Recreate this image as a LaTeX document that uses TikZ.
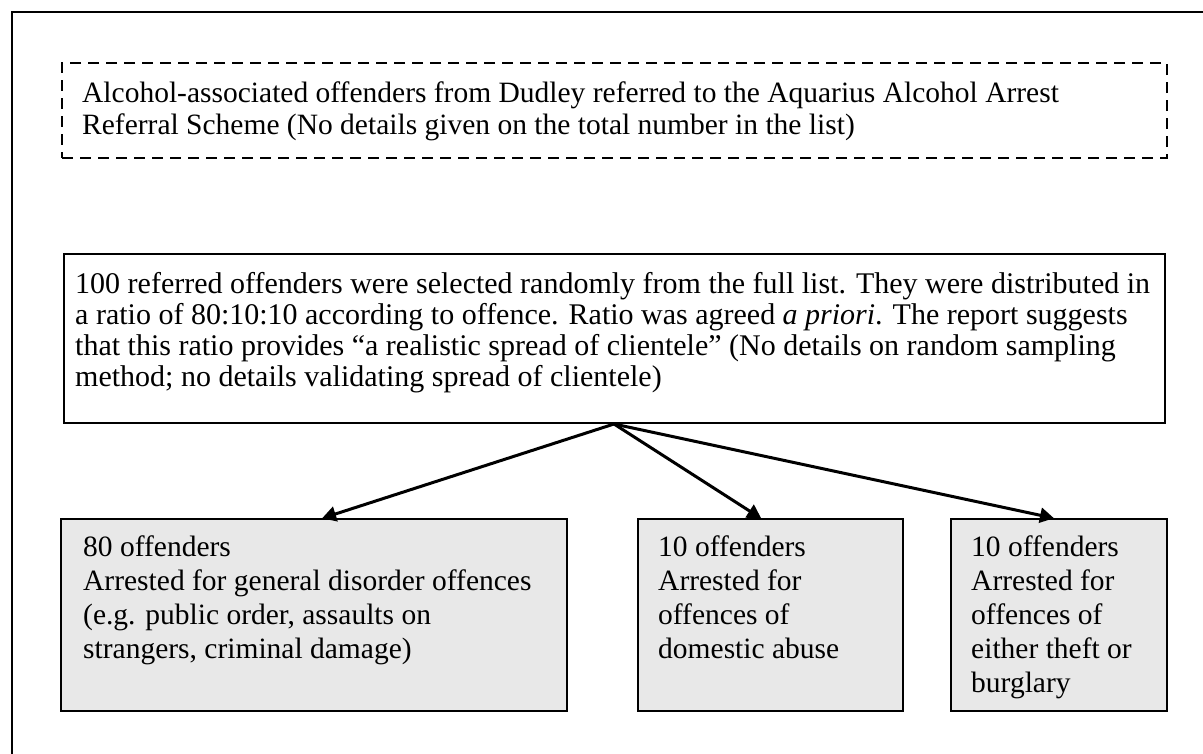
\documentclass[tikz,border=0pt]{standalone}
\usepackage{fontspec}
\setmainfont{Liberation Serif}
\usetikzlibrary{arrows.meta}

% stacked lines whose first baseline is the box baseline
\newcommand{\stacklines}[2]{\vtop{\baselineskip=#1\lineskiplimit=-100pt\lineskip=0pt #2}}

\tikzset{
  frameline/.style={line width=2.2pt, line cap=rect},
  dashbox/.style={draw, line width=2.4pt, dash pattern=on 11pt off 7pt, inner sep=0pt, anchor=north west},
  plainbox/.style={draw, line width=2pt, fill=white, inner sep=0pt, anchor=north west},
  greybox/.style={draw, line width=2pt, fill=black!9, inner sep=0pt, anchor=north west},
  txt/.style={inner sep=0pt, anchor=base west, font=\fontsize{29.5}{34}\selectfont},
  bigtxt/.style={txt, font=\fontsize{30}{31}\selectfont},
  link/.style={line width=3pt, -{Triangle[length=14pt,width=15pt]}, shorten >=-1pt}
}

\begin{document}
\begin{tikzpicture}[x=1pt,y=-1pt]
\useasboundingbox (0,0) rectangle (1203,753);
\begin{scope}
\clip (0,0) rectangle (1203,753);

% surrounding frame, running off the right and bottom edges
\draw[frameline] (1215,12) -- (12,12) -- (12,770);

% source list
\node[dashbox, minimum width=1105pt, minimum height=95pt] (src) at (61,62) {};
\node[txt] (srctext) at (82,102) {\stacklines{32pt}{%
  \hbox{Alcohol-associated offenders from Dudley referred to the Aquarius Alcohol Arrest}%
  \hbox{Referral Scheme (No details given on the total number in the list)}}};

% sample description
\node[plainbox, minimum width=1101pt, minimum height=169pt] (sample) at (63,253) {};
\node[bigtxt] (sampletext) at (75,293) {\stacklines{31pt}{%
  \hbox{100 referred offenders were selected randomly from the full list. They were distributed in}%
  \hbox{a ratio of 80:10:10 according to offence. Ratio was agreed \textit{a priori}. The report suggests}%
  \hbox{that this ratio provides “a realistic spread of clientele” (No details on random sampling}%
  \hbox{method; no details validating spread of clientele)}}};

% the three groups
\node[greybox, minimum width=506pt, minimum height=192pt] (g1) at (60,518) {};
\node[txt] (g1text) at (83,556) {\stacklines{34pt}{%
  \hbox{80 offenders}%
  \hbox{Arrested for general disorder offences}%
  \hbox{(e.g. public order, assaults on}%
  \hbox{strangers, criminal damage)}}};

\node[greybox, minimum width=265pt, minimum height=192pt] (g2) at (637,518) {};
\node[txt] (g2text) at (658,556) {\stacklines{34pt}{%
  \hbox{10 offenders}%
  \hbox{Arrested for}%
  \hbox{offences of}%
  \hbox{domestic abuse}}};

\node[greybox, minimum width=216pt, minimum height=192pt] (g3) at (950,518) {};
\node[txt] (g3text) at (971,556) {\stacklines{34pt}{%
  \hbox{10 offenders}%
  \hbox{Arrested for}%
  \hbox{offences of}%
  \hbox{either theft or}%
  \hbox{burglary}}};

% split arrows from the sample box
\coordinate (split) at ([xshift=-0.5pt]sample.south);
\draw[link] (split) -- ([xshift=9pt]g1.north);
\draw[link] (split) -- ([xshift=-10pt]g2.north);
\draw[link] (split) -- ([xshift=-6pt]g3.north);
\end{scope}
\end{tikzpicture}
\end{document}
